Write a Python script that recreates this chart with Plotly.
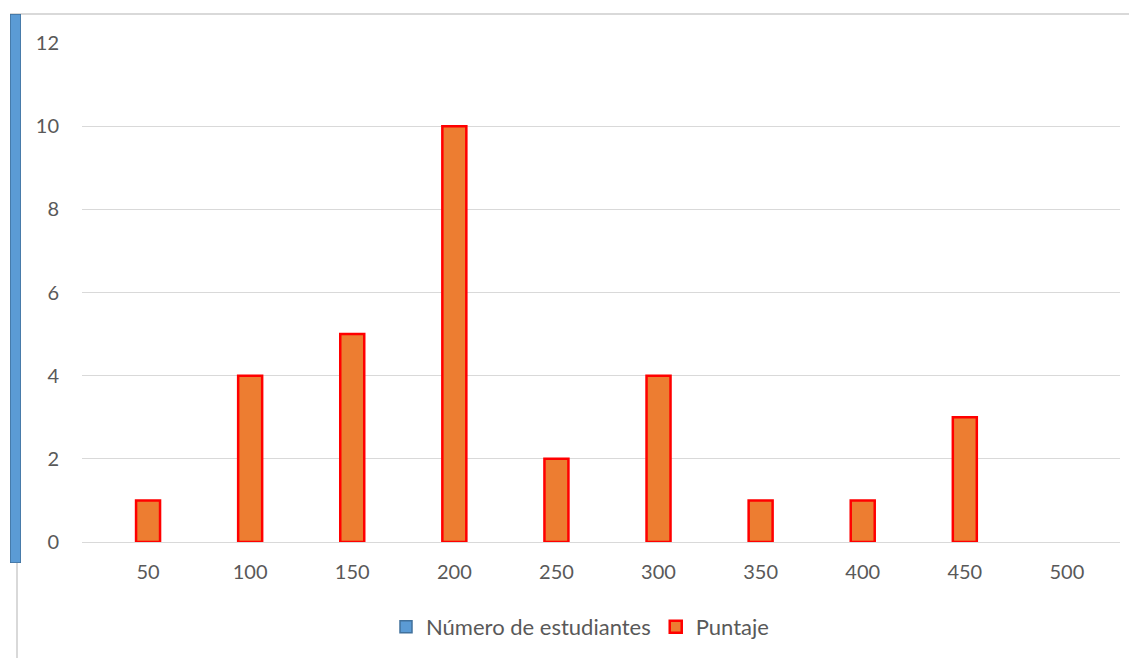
import plotly.graph_objects as go

categories = ["50", "100", "150", "200", "250", "300", "350", "400", "450", "500"]
puntaje = [1, 4, 5, 10, 2, 4, 1, 1, 3, 0]
estudiantes_label = ["Número de estudiantes"]
estudiantes_value = [1]

# page body has an 8px margin; work in screenshot pixels and convert
OFF = 8
W, H = 1137 - OFF, 658 - OFF
ml, mr, mt, mb = 10 - OFF, 1137 - 1120, 14 - OFF, 658 - 563
pw, ph = W - ml - mr, H - mt - mb

def px_x(x):
    return (x - OFF - ml) / pw

def px_y(y):
    return (H - mb - (y - OFF)) / ph

font_color = "#595959"
grid_color = "#d9d9d9"
font_family = "Lato, 'Open Sans', sans-serif"

fig = go.Figure()

fig.add_trace(go.Bar(
    x=estudiantes_label, y=estudiantes_value, name="Número de estudiantes",
    marker=dict(color="#5b9bd5", line=dict(color="#41719c", width=1.5)),
    width=1, xaxis="x2", yaxis="y2", hoverinfo="skip",
))

fig.add_trace(go.Bar(
    x=categories, y=puntaje, name="Puntaje",
    marker=dict(color="#ed7d31",
                line=dict(color="#ff0000", width=[2.5 if v > 0 else 0 for v in puntaje])),
    width=0.235,
))

fig.update_layout(
    width=W, height=H,
    margin=dict(l=ml, r=mr, t=mt, b=mb, autoexpand=False),
    paper_bgcolor="white", plot_bgcolor="white",
    font=dict(family=font_family, size=20, color=font_color),
    xaxis=dict(
        domain=[px_x(82), 1], type="category", range=[-0.647, 9.52],
        showgrid=False,
        showline=True, linecolor=grid_color, linewidth=1,
        ticks="", ticklabelstandoff=12, tickfont=dict(size=20, color=font_color),
        zeroline=False,
    ),
    yaxis=dict(
        domain=[px_y(542), px_y(43)], range=[0, 12], dtick=2,
        showgrid=True, gridcolor=grid_color, gridwidth=1,
        zeroline=False, showline=False, ticks="",
        ticklabelstandoff=22, tickfont=dict(size=20, color=font_color),
    ),
    xaxis2=dict(domain=[0, px_x(21)], anchor="y2", visible=False, type="category"),
    yaxis2=dict(domain=[0, 1], anchor="x2", visible=False, range=[0, 1]),
    legend=dict(
        orientation="h", x=px_x(580), xanchor="center",
        y=px_y(627), yanchor="middle",
        font=dict(size=22, color=font_color), traceorder="normal",
        itemwidth=30,
    ),
    showlegend=True,
    shapes=[
        dict(type="line", xref="paper", yref="paper",
             x0=0, x1=px_x(1137), y0=px_y(14), y1=px_y(14),
             line=dict(color=grid_color, width=2), layer="below"),
        dict(type="line", xref="paper", yref="paper",
             x0=px_x(17), x1=px_x(17), y0=px_y(14), y1=px_y(658),
             line=dict(color=grid_color, width=2), layer="below"),
    ],
)

fig.write_html("out.html")
